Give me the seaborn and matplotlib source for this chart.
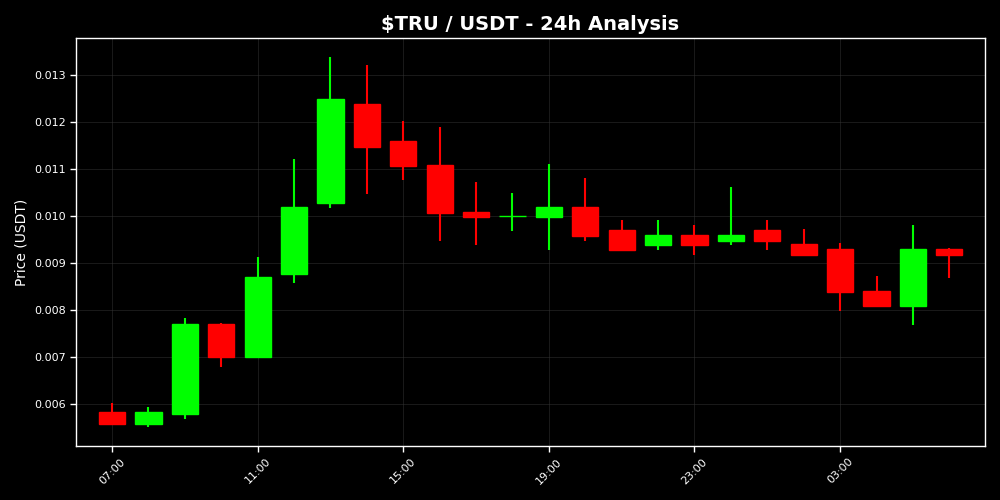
import numpy as np
import pandas as pd
import seaborn as sns
import matplotlib.pyplot as plt

# hourly candles
times = ["07:00", "08:00", "09:00", "10:00", "11:00", "12:00", "13:00", "14:00",
         "15:00", "16:00", "17:00", "18:00", "19:00", "20:00", "21:00", "22:00",
         "23:00", "00:00", "01:00", "02:00", "03:00", "04:00", "05:00", "06:00"]
opens = [0.00582, 0.00557, 0.00579, 0.00770, 0.00700, 0.00877, 0.01028, 0.01238,
         0.01160, 0.01109, 0.01009, 0.01000, 0.00999, 0.01020, 0.00970, 0.00939,
         0.00960, 0.00947, 0.00970, 0.00940, 0.00930, 0.00841, 0.00809, 0.00930]
closes = [0.00557, 0.00582, 0.00770, 0.00699, 0.00870, 0.01020, 0.01249, 0.01148,
          0.01107, 0.01006, 0.00999, 0.01000, 0.01020, 0.00958, 0.00928, 0.00960,
          0.00939, 0.00960, 0.00947, 0.00918, 0.00839, 0.00809, 0.00930, 0.00918]
highs = [0.00603, 0.00594, 0.00783, 0.00772, 0.00913, 0.01121, 0.01340, 0.01322,
         0.01202, 0.01191, 0.01072, 0.01050, 0.01111, 0.01081, 0.00991, 0.00991,
         0.00981, 0.01062, 0.00991, 0.00972, 0.00943, 0.00872, 0.00981, 0.00932]
lows = [0.00557, 0.00550, 0.00568, 0.00679, 0.00700, 0.00858, 0.01018, 0.01047,
        0.01077, 0.00947, 0.00939, 0.00968, 0.00928, 0.00947, 0.00928, 0.00928,
        0.00918, 0.00939, 0.00928, 0.00918, 0.00799, 0.00809, 0.00769, 0.00868]

df = pd.DataFrame({"time": times, "open": opens, "close": closes, "high": highs, "low": lows})
df["x"] = np.arange(len(df))
df["up"] = df["close"] >= df["open"]
df["color"] = np.where(df["up"], "#00ff00", "#ff0000")

sns.set_theme(style="dark", rc={
    "figure.facecolor": "black", "axes.facecolor": "black",
    "axes.edgecolor": "white", "text.color": "white",
    "axes.labelcolor": "white", "xtick.color": "white", "ytick.color": "white",
})
plt.rcParams['font.family'] = ['DejaVu Sans']

fig, ax = plt.subplots(figsize=(10, 5), dpi=100)
fig.subplots_adjust(left=0.076, right=0.985, bottom=0.108, top=0.924)

# wicks
ax.vlines(df["x"], df["low"], df["high"], colors=df["color"], linewidth=1.5, zorder=2)
# bodies
ax.bar(df["x"], df["close"] - df["open"], bottom=df["open"], width=0.72,
       color=df["color"], edgecolor=df["color"], linewidth=1, zorder=3)

ax.grid(True, color="#333333", linewidth=0.6, alpha=0.6)
ax.set_xlim(-0.99, 23.98)
tick_pos = df["x"][::4]
ax.set_xticks(tick_pos)
ax.set_xticklabels(df["time"][::4], rotation=45, fontsize=8)
ax.tick_params(axis="y", labelsize=8)
ax.tick_params(axis="both", which="major", length=4, width=1, bottom=True, left=True)
for s in ax.spines.values():
    s.set_color("white")
    s.set_linewidth(1)

ax.set_ylabel("Price (USDT)", fontsize=10)
ax.set_title("$TRU / USDT - 24h Analysis", fontsize=14, fontweight="bold", color="white")

fig.savefig("out.png", facecolor="black")
